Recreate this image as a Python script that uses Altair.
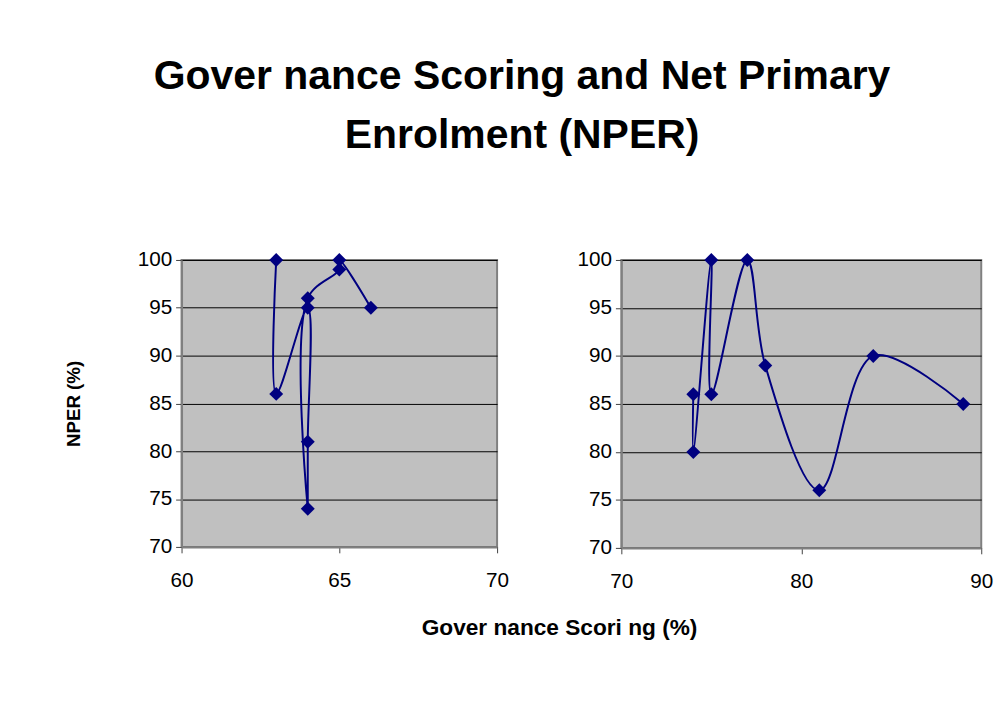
import altair as alt
import pandas as pd

# Left panel (lower governance scores)
left_x = [63, 63, 64, 64, 64, 64, 65, 65, 66]
left_y = [100, 86, 95, 81, 74, 96, 99, 100, 95]
# Right panel (higher governance scores)
right_x = [74, 74, 75, 75, 77, 78, 81, 84, 89]
right_y = [86, 80, 100, 86, 100, 89, 76, 90, 85]

left_ticks = [60, 65, 70]
right_ticks = [70, 80, 90]
y_ticks = [70, 75, 80, 85, 90, 95, 100]

NAVY = "#000080"
LABEL_FONT = "Liberation Sans"
TITLE_FONT = "Liberation Sans"


def panel(xs, ys, xdom, xticks, w, h, ytitle):
    df = pd.DataFrame({"x": xs, "y": ys, "i": list(range(len(xs)))})
    xenc = alt.X(
        "x:Q",
        scale=alt.Scale(domain=xdom, nice=False, zero=False),
        axis=alt.Axis(values=xticks, grid=False, title=None, labelPadding=17,
                      labelFlush=False),
    )
    if ytitle:
        yaxis = alt.Axis(values=y_ticks, grid=True, gridColor="black", gridWidth=1,
                         labelPadding=4, title=ytitle, titlePadding=54)
    else:
        yaxis = alt.Axis(values=y_ticks, grid=True, gridColor="black", gridWidth=1,
                         labelPadding=4, title=None)
    yenc = alt.Y("y:Q", scale=alt.Scale(domain=[70, 100], nice=False, zero=False), axis=yaxis)
    base = alt.Chart(df)
    line = base.mark_line(interpolate="catmull-rom", color=NAVY, strokeWidth=2).encode(
        x=xenc, y=yenc, order="i:Q"
    )
    pts = base.mark_point(shape="diamond", filled=True, size=200, color=NAVY, opacity=1).encode(
        x="x:Q", y="y:Q"
    )
    return alt.layer(line, pts).properties(width=w, height=h)


left = panel(left_x, left_y, [60, 70], left_ticks, 320, 291, "NPER (%)")
right = panel(right_x, right_y, [70, 90], right_ticks, 365, 292, None)

inner = alt.hconcat(
    left, right, spacing=66,
    title=alt.TitleParams(
        "Gover nance  Scori ng (%)", orient="bottom", anchor="middle",
        font=LABEL_FONT, fontSize=23, fontWeight="bold", color="black", offset=25, dx=31,
    ),
)

chart = alt.vconcat(
    inner,
    title=alt.TitleParams(
        ["Gover nance  Scoring  and Net Primary", "Enrolment  (NPER)"],
        anchor="middle", font=TITLE_FONT, fontSize=41.5, fontWeight="bold", color="black",
        lineHeight=60, offset=93, dx=-7,
    ),
).properties(
    padding={"left": 56, "top": 44, "right": 5, "bottom": 5},
    background="white",
).configure_view(
    fill="#C0C0C0", stroke="#808080", strokeWidth=2
).configure_axis(
    domainColor="#808080", domainWidth=2, tickColor="#404040", tickSize=6,
    labelFont=LABEL_FONT, labelFontSize=21, labelColor="black",
    titleFont=LABEL_FONT, titleFontSize=19, titleFontWeight="bold", titleColor="black",
)

chart.save("out.html", embed_options={"renderer": "svg", "actions": False})
